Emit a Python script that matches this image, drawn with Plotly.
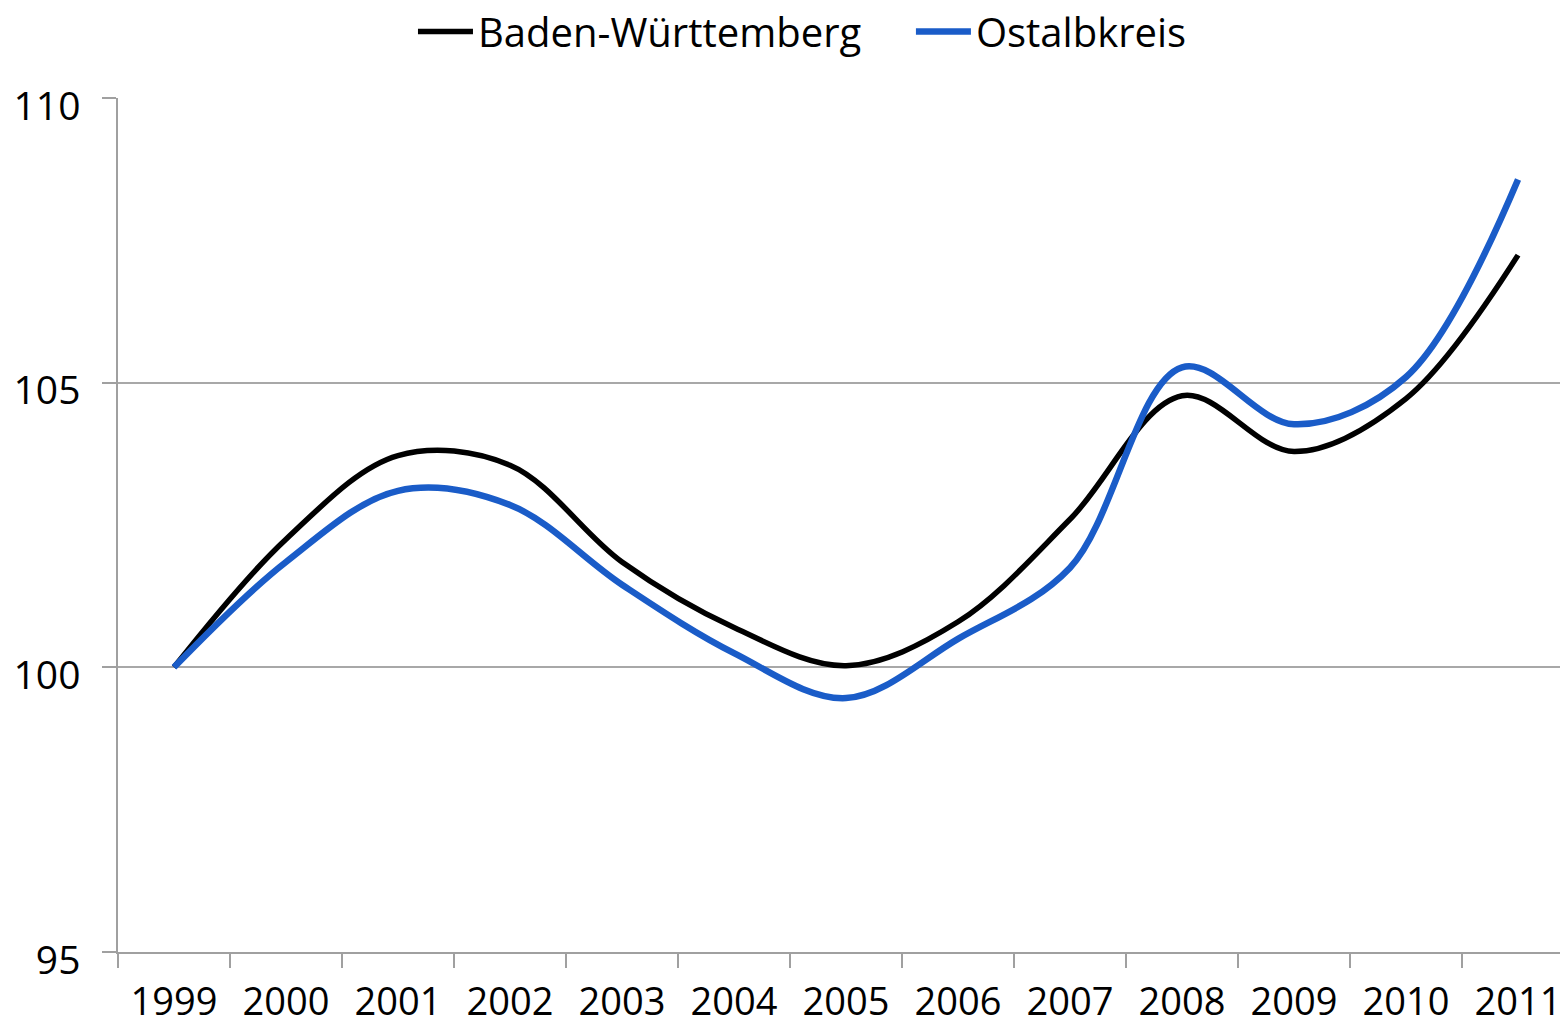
import plotly.graph_objects as go

years = ["1999", "2000", "2001", "2002", "2003", "2004", "2005",
         "2006", "2007", "2008", "2009", "2010", "2011"]
bw = [100, 102.25, 103.72, 103.55, 101.85, 100.7, 100.03,
      100.8, 102.6, 104.77, 103.79, 104.72, 107.24]
ostalb = [100, 101.85, 103.1, 102.85, 101.45, 100.25, 99.46,
          100.5, 101.75, 105.27, 104.27, 105.1, 108.57]
yticks = [95, 100, 105, 110]

FONT = "Open Sans"

fig = go.Figure()
fig.add_trace(go.Scatter(x=years, y=bw, mode="lines", name="Baden-Württemberg",
                         legend="legend",
                         line=dict(color="#000000", width=5.5, shape="spline", smoothing=1.0)))
fig.add_trace(go.Scatter(x=years, y=ostalb, mode="lines", name="Ostalbkreis",
                         legend="legend2",
                         line=dict(color="#1a5cc8", width=6.5, shape="spline", smoothing=1.0)))

legend_common = dict(orientation="h", yanchor="middle", y=0.977, xanchor="left",
                     xref="container", yref="container",
                     font=dict(family=FONT, size=40, color="#000000"),
                     itemwidth=55, bgcolor="rgba(0,0,0,0)")

# the page body adds an 8px margin, so the figure is 8px smaller than the window
fig.update_layout(
    width=1560, height=1019,
    margin=dict(l=110, r=0, t=90, b=75),
    paper_bgcolor="white", plot_bgcolor="white",
    showlegend=True,
    legend=dict(legend_common, x=0.2596),
    legend2=dict(legend_common, x=0.5788),
    font=dict(family=FONT, color="#000000"),
)

fig.update_xaxes(
    type="category", range=[-0.5, 12.446],
    showgrid=False, showline=True, linecolor="#a0a0a0", linewidth=1.5,
    ticks="outside", tickson="boundaries", ticklen=14, tickcolor="#a0a0a0", tickwidth=1.5,
    tickfont=dict(family=FONT, size=38, color="#000000"),
    ticklabelstandoff=16,
)
fig.update_yaxes(
    range=[95, 110], tickvals=yticks,
    showgrid=True, gridcolor="#a8a8a8", gridwidth=1.5,
    showline=True, linecolor="#a0a0a0", linewidth=1.5,
    ticks="outside", ticklen=14, tickcolor="#a0a0a0", tickwidth=1.5,
    tickfont=dict(family=FONT, size=39, color="#000000"),
    ticklabelstandoff=14, ticklabelshift=8, zeroline=False,
)

fig.write_html("out.html")
